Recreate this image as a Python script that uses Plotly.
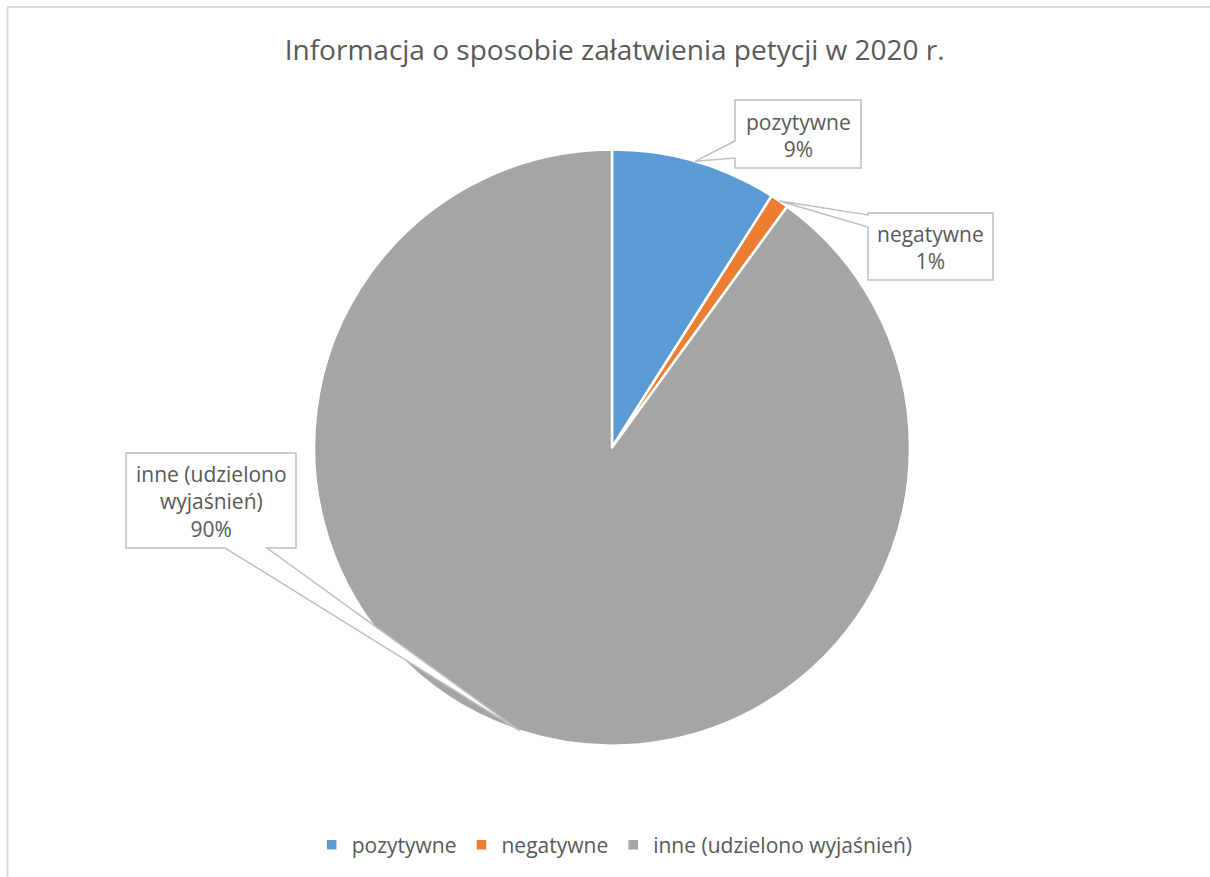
import math
import plotly.graph_objects as go

# ---- data ----
categories = ["pozytywne", "negatywne", "inne (udzielono wyjaśnień)"]
values = [9, 1, 90]
box_texts = ["pozytywne<br>9%", "negatywne<br>1%", "inne (udzielono<br>wyjaśnień)<br>90%"]
colors = ["#5B9BD5", "#ED7D31", "#A5A5A5"]
title_text = "Informacja o sposobie załatwienia petycji w 2020 r."

W, H = 1210, 877
FONT = "Open Sans"
TXT = "#595959"

# pie geometry (pixels)
cx, cy, r = 612, 447.5, 298


def px(x):
    return x / W


def py(y):
    return 1 - y / H


fig = go.Figure()
fig.add_trace(go.Pie(
    labels=categories, values=values, sort=False, direction="clockwise", rotation=0,
    marker=dict(colors=colors, line=dict(color="white", width=2.5)),
    textinfo="none", hoverinfo="label+percent",
    domain=dict(x=[px(cx - r), px(cx + r)], y=[py(cy + r), py(cy - r)]),
))

# callout boxes: (x0, y0, x1, y1), side with wedge, wedge base (a, b) along that side
boxes = [
    ((735, 100, 861, 168), "left", (141, 158)),
    ((868, 213, 993, 280), "left", (215, 227)),
    ((126, 453, 296, 548), "bottom", (225, 267)),
]

total = sum(values)
shapes = []
annotations = []
cum = 0
for i, v in enumerate(values):
    mid = (cum + v / 2) / total * 2 * math.pi
    cum += v
    tx = cx + r * math.sin(mid)
    ty = cy - r * math.cos(mid)
    (x0, y0, x1, y1), side, (a, b) = boxes[i]
    if side == "left":
        pts = [(x0, y0), (x1, y0), (x1, y1), (x0, y1), (x0, b), (tx, ty), (x0, a)]
    else:  # bottom
        pts = [(x0, y0), (x1, y0), (x1, y1), (b, y1), (tx, ty), (a, y1), (x0, y1)]
    path = "M " + " L ".join(f"{px(x):.5f},{py(y):.5f}" for x, y in pts) + " Z"
    shapes.append(dict(type="path", xref="paper", yref="paper", path=path,
                       fillcolor="white", line=dict(color="#BFBFBF", width=1.5), layer="above"))
    annotations.append(dict(x=px((x0 + x1) / 2), y=py((y0 + y1) / 2 + 1), xref="paper", yref="paper",
                            xanchor="center", yanchor="middle",
                            text=box_texts[i], showarrow=False, align="center",
                            font=dict(family=FONT, size=21, color=TXT)))

# outer frame lines (top and left)
shapes.append(dict(type="line", xref="paper", yref="paper", x0=px(7), x1=1, y0=py(7), y1=py(7),
                   line=dict(color="#D9D9D9", width=2)))
shapes.append(dict(type="line", xref="paper", yref="paper", x0=px(7.5), x1=px(7.5), y0=py(7), y1=0,
                   line=dict(color="#D9D9D9", width=2)))

fig.update_layout(
    width=W, height=H,
    margin=dict(l=0, r=0, t=0, b=0),
    paper_bgcolor="white", plot_bgcolor="white",
    title=dict(text=title_text, x=0.508, xanchor="center", y=py(50), yanchor="middle",
               font=dict(family=FONT, size=28, color=TXT)),
    showlegend=True,
    legend=dict(orientation="h", x=0.508, xanchor="center", y=py(845), yanchor="middle",
                font=dict(family=FONT, size=21, color=TXT)),
    shapes=shapes,
    annotations=annotations,
)

fig.write_html("out.html", config={"displayModeBar": False},
               post_script="document.body.style.margin='0';document.body.style.overflow='hidden';")
